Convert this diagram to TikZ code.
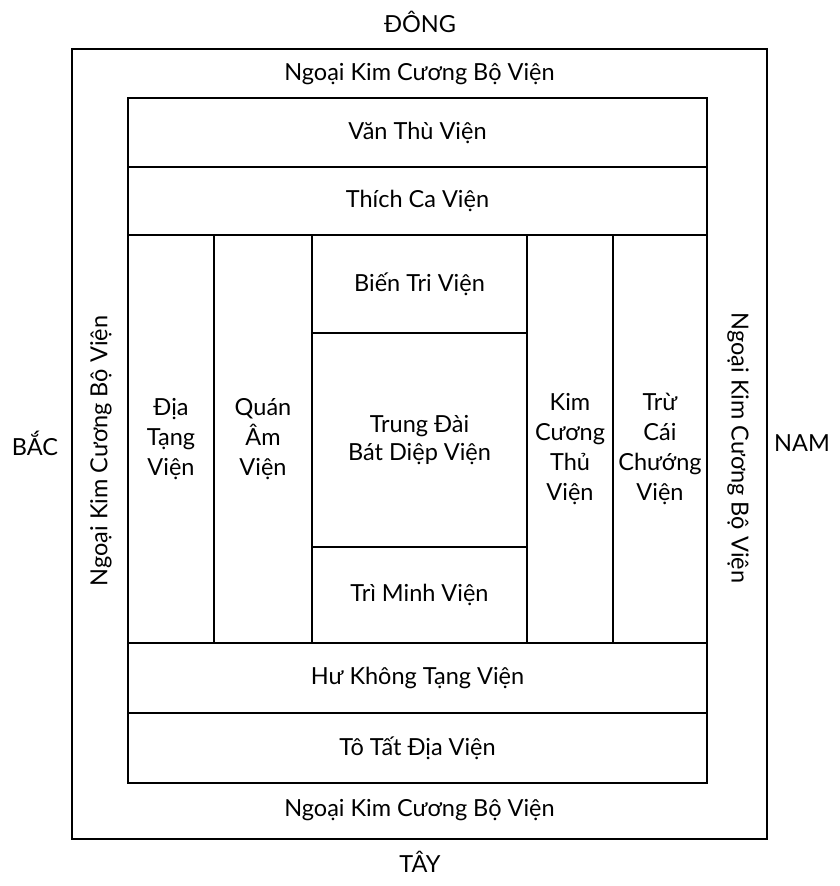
\documentclass[tikz,border=0pt]{standalone}
\usepackage{fontspec}
\setmainfont{Lato}
\usepackage{xcolor}
\usepackage{tikz}
\usetikzlibrary{positioning}

\begin{document}
\begin{tikzpicture}[
  x=1pt,y=-1pt,
  font=\fontsize{23.5}{30}\selectfont,
  cell/.style={draw=black,line width=2.8pt,rectangle,inner sep=0pt,align=center},
  lbl/.style={inner sep=0pt,align=center}
]
\useasboundingbox (0,0) rectangle (839,886);
% outer ring
\node[cell,minimum width=695,minimum height=790] (ngoai) at (419.5,444) {};
% top rows
\node[cell,minimum width=579,minimum height=69] (vanthu) at (417.5,132.5) {Văn Thù Viện};
\node[cell,minimum width=579,minimum height=68] (thichca) at (417.5,201) {Thích Ca Viện};
% middle columns
\node[cell,minimum width=86,minimum height=408] (dia) at (171,439) {Địa\\Tạng\\Viện};
\node[cell,minimum width=98,minimum height=408] (quanam) at (263,439) {Quán\\Âm\\Viện};
\node[cell,minimum width=215,minimum height=98] (bientri) at (419.5,284) {Biến Tri Viện};
\node[cell,minimum width=215,minimum height=214] (trungdai) at (419.5,440) {Trung Đài\\[-2pt]Bát Diệp Viện};
\node[cell,minimum width=215,minimum height=96] (triminh) at (419.5,595) {Trì Minh Viện};
\node[cell,minimum width=86,minimum height=408] (kimcuong) at (570,439) {};
\node[cell,minimum width=94,minimum height=408] (trucai) at (660,439) {};
\node[lbl,yshift=-10pt] (kimcuongtxt) at (kimcuong.center) {Kim\\Cương\\Thủ\\Viện};
\node[lbl,yshift=-10pt] (trucaitxt) at (trucai.center) {Trừ\\Cái\\Chướng\\Viện};
% bottom rows
\node[cell,minimum width=579,minimum height=70] (hukhong) at (417.5,678) {Hư Không Tạng Viện};
\node[cell,minimum width=579,minimum height=70] (totat) at (417.5,748) {Tô Tất Địa Viện};
% outer ring labels
\node[lbl] (ngoaitop) at (419.5,74) {Ngoại Kim Cương Bộ Viện};
\node[lbl] (ngoaibot) at (419.5,810) {Ngoại Kim Cương Bộ Viện};
\node[lbl,rotate=90] (ngoaitrai) at (101,451) {Ngoại Kim Cương Bộ Viện};
\node[lbl,rotate=-90] (ngoaiphai) at (738,448) {Ngoại Kim Cương Bộ Viện};
% directions
\node[lbl] (dong) at (420,22) {ĐÔNG};
\node[lbl] (tay) at (420,862) {TÂY};
\node[lbl] (bac) at (35,443) {BẮC};
\node[lbl] (nam) at (802,443) {NAM};
\end{tikzpicture}
\end{document}
